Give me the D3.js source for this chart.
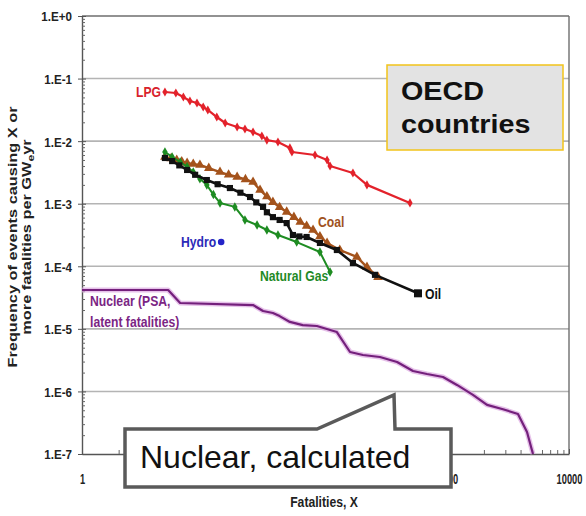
<!DOCTYPE html>
<html>
<head>
<meta charset="utf-8">
<script src="https://cdn.jsdelivr.net/npm/d3@7"></script>
<style>
  html, body { margin: 0; padding: 0; background: #ffffff; }
  svg { display: block; }
  text { font-family: "Liberation Sans", Arial, sans-serif; }
</style>
</head>
<body>
<script>
// ---------------- data ----------------
const yTickValues = [1, 1e-1, 1e-2, 1e-3, 1e-4, 1e-5, 1e-6, 1e-7];
const yTickLabels = ["1.E+0", "1.E-1", "1.E-2", "1.E-3", "1.E-4", "1.E-5", "1.E-6", "1.E-7"];
const xTickValues = [1, 10, 100, 1000, 10000];
const xTickLabels = ["1", "10", "100", "1000", "10000"];

const lpgX = [4.8, 5.9, 6.8, 7.7, 8.8, 9.9, 10.8, 12.8, 15, 18.8, 21.8, 25.4, 30, 33, 40.7, 51, 53, 82, 103, 109, 168, 219, 494];
const lpgF = [0.061, 0.0588, 0.0507, 0.0438, 0.0407, 0.0351, 0.0315, 0.0243, 0.0195, 0.0168, 0.0156, 0.0140, 0.0121, 0.0104, 0.0097, 0.0078, 0.0067, 0.0060, 0.0050, 0.0040, 0.0031, 0.0020, 0.00103];

const coalX = [4.8, 5.4, 6.0, 6.6, 7.3, 8.2, 9.3, 11, 13.6, 16, 18.8, 22, 25.4, 29, 33, 37, 42, 48, 55, 62, 70, 79, 90, 103, 131, 181, 219, 270];
const coalF = [5.58e-3, 5.3e-3, 5.0e-3, 4.7e-3, 4.47e-3, 4.3e-3, 4.16e-3, 3.7e-3, 3.21e-3, 2.9e-3, 2.67e-3, 2.45e-3, 2.22e-3, 1.66e-3, 1.3e-3, 1.06e-3, 8.8e-4, 7.4e-4, 6.1e-4, 5.1e-4, 4.4e-4, 3.8e-4, 3.0e-4, 2.36e-4, 1.82e-4, 1.41e-4, 9.7e-5, 6.7e-5];

const oilX = [4.8, 5.5, 6.3, 7.3, 8.5, 10.6, 13, 16.4, 20, 24, 27, 30.7, 33, 37, 42, 48, 54, 61, 70, 90, 124, 168, 255, 575];
const oilF = [5.38e-3, 4.8e-3, 4.1e-3, 3.46e-3, 2.9e-3, 2.39e-3, 2.05e-3, 1.78e-3, 1.5e-3, 1.28e-3, 1.05e-3, 8.9e-4, 7.3e-4, 6.1e-4, 5.5e-4, 4.9e-4, 3.16e-4, 3.0e-4, 2.94e-4, 2.36e-4, 1.82e-4, 1.13e-4, 7.3e-5, 3.7e-5];

const gasX = [4.8, 5.5, 6.4, 7.3, 8.2, 9.3, 10.6, 12, 13.6, 18, 21.8, 27.4, 33, 40.7, 58, 90, 109];
const gasF = [6.7e-3, 5.6e-3, 4.64e-3, 3.9e-3, 3.21e-3, 2.5e-3, 1.99e-3, 1.4e-3, 1.03e-3, 8.9e-4, 5.5e-4, 4.57e-4, 3.8e-4, 3.16e-4, 2.44e-4, 1.69e-4, 8.1e-5];

const hydroX = [13.9];
const hydroF = [2.44e-4];

const nucX = [1, 5.1, 6.4, 25.4, 30.7, 37, 42, 51, 65, 85, 124, 159, 203, 280, 387, 523, 682, 923, 1202, 1626, 2122, 2870, 3810, 4520, 5060];
const nucF = [4.18e-5, 4.18e-5, 2.59e-5, 2.40e-5, 1.93e-5, 1.79e-5, 1.60e-5, 1.29e-5, 1.15e-5, 1.11e-5, 8.9e-6, 4.27e-6, 3.82e-6, 3.55e-6, 2.95e-6, 2.12e-6, 1.90e-6, 1.70e-6, 1.27e-6, 8.8e-7, 6.1e-7, 5.2e-7, 4.35e-7, 2.25e-7, 1e-7];

// ---------------- chart ----------------
const W = 586, H = 516;
const svg = d3.select("body").append("svg").attr("width", W).attr("height", H);

const x = d3.scaleLog().domain([1, 10000]).range([82, 569]);
const y = d3.scaleLog().domain([1e-7, 1]).range([454, 16]);

// callout geometry (drawn last, on top)
const cL = 125, cR = 451, cT = 429, cB = 487, pL = 317, pR = 395, tipX = 394, tipY = 395;

const zip = (xs, ys) => xs.map((v, i) => [v, ys[i]]);
const line = d3.line().x(d => x(d[0])).y(d => y(d[1]));

// grid lines
svg.append("g").selectAll("line")
  .data(yTickValues.filter(v => v < 1 && v > 1e-7))
  .join("line")
  .attr("x1", x(1)).attr("x2", x(10000))
  .attr("y1", d => y(d)).attr("y2", d => y(d))
  .attr("stroke", "#b4b4b4").attr("stroke-width", 1.6);

// frame top + right
svg.append("line").attr("x1", x(1)).attr("x2", x(10000)).attr("y1", y(1)).attr("y2", y(1))
  .attr("stroke", "#6e6e6e").attr("stroke-width", 1.6);
svg.append("line").attr("x1", x(10000)).attr("x2", x(10000)).attr("y1", y(1)).attr("y2", y(1e-7))
  .attr("stroke", "#6e6e6e").attr("stroke-width", 1.4);

// y axis
const yMinor = y.ticks().filter(v => !yTickValues.some(t => Math.abs(t - v) / t < 1e-9));
const gy = svg.append("g").attr("transform", `translate(${x(1)},0)`);
gy.call(d3.axisLeft(y).tickValues(yTickValues).tickFormat((d, i) => yTickLabels[i]).tickSizeInner(4).tickSizeOuter(0));
gy.select(".domain").attr("stroke", "#555").attr("stroke-width", 1.4);
gy.selectAll(".tick line").attr("stroke", "#555");
gy.selectAll(".tick text")
  .attr("x", -10 / 0.86).attr("dy", "0.36em")
  .attr("transform", "scale(0.86,1)")
  .attr("font-size", 13.5).attr("font-weight", "bold").attr("fill", "#222");
const gyIn = svg.append("g").attr("transform", `translate(${x(1)},0)`);
gyIn.call(d3.axisRight(y).tickValues(yTickValues).tickFormat("").tickSize(4).tickSizeOuter(0));
gyIn.call(g => g.select(".domain").remove());
gyIn.selectAll(".tick line").attr("stroke", "#555");
const gyMinor = svg.append("g").attr("transform", `translate(${x(1)},0)`);
gyMinor.call(d3.axisRight(y).tickValues(yMinor).tickFormat("").tickSize(3).tickSizeOuter(0));
gyMinor.call(g => g.select(".domain").remove());
gyMinor.selectAll(".tick line").attr("stroke", "#666");

// x axis (labels hidden behind the callout box are not drawn)
const xMinor = x.ticks().filter(v => !xTickValues.some(t => Math.abs(t - v) / t < 1e-9));
const gx = svg.append("g").attr("transform", `translate(0,${y(1e-7)})`);
gx.call(d3.axisBottom(x).tickValues(xTickValues)
  .tickFormat((d, i) => (x(d) > cL && x(d) < cR - 12) ? "" : xTickLabels[i])
  .tickSizeInner(-5).tickSizeOuter(0));
gx.select(".domain").attr("stroke", "#555").attr("stroke-width", 1.6);
gx.selectAll(".tick line").attr("stroke", "#555");
gx.selectAll(".tick text")
  .attr("y", 30).attr("dy", 0)
  .attr("transform", "scale(0.62,1)")
  .attr("font-size", 15).attr("font-weight", "bold").attr("fill", "#222");
const gxMinor = svg.append("g").attr("transform", `translate(0,${y(1e-7)})`);
gxMinor.call(d3.axisBottom(x).tickValues(xMinor).tickFormat("").tickSize(-4).tickSizeOuter(0));
gxMinor.call(g => g.select(".domain").remove());
gxMinor.selectAll(".tick line").attr("stroke", "#666");

// axis titles
svg.append("text")
  .attr("transform", "translate(17,237) rotate(-90) scale(1.36,1)")
  .attr("text-anchor", "middle").attr("font-size", 12).attr("font-weight", "bold").attr("fill", "#222")
  .text("Frequency of events causing X or");
const yt2 = svg.append("text")
  .attr("transform", "translate(31,237) rotate(-90) scale(1.36,1)")
  .attr("text-anchor", "middle").attr("font-size", 12).attr("font-weight", "bold").attr("fill", "#222");
yt2.append("tspan").text("more fatalities per GW");
yt2.append("tspan").attr("font-size", 9).attr("dy", 3).text("e");
yt2.append("tspan").attr("dy", -3).text("yr");

svg.append("text")
  .attr("transform", "translate(324,507) scale(0.87,1)")
  .attr("text-anchor", "middle").attr("font-size", 14).attr("font-weight", "bold").attr("fill", "#222")
  .text("Fatalities, X");

// series
const colors = { lpg: "#e3222b", coal: "#a4531c", oil: "#111111", gas: "#1e8c22", hydro: "#2424c8", nuc: "#74207c" };

// nuclear line
const nucData = zip(nucX, nucF);
svg.append("path").datum(nucData).attr("d", line).attr("fill", "none")
  .attr("stroke", "#dca6e0").attr("stroke-width", 5).attr("stroke-linejoin", "round").attr("opacity", 0.7);
svg.append("path").datum(nucData).attr("d", line).attr("fill", "none")
  .attr("stroke", colors.nuc).attr("stroke-width", 2.2).attr("stroke-linejoin", "round");

function series(xs, ys, color, sym, size, width) {
  const data = zip(xs, ys);
  svg.append("path").datum(data).attr("d", line).attr("fill", "none")
    .attr("stroke", color).attr("stroke-width", width).attr("stroke-linejoin", "round");
  svg.append("g").selectAll("path").data(data).join("path")
    .attr("transform", d => `translate(${x(d[0])},${y(d[1])})`)
    .attr("d", d3.symbol().type(sym).size(size))
    .attr("fill", color);
}
series(coalX, coalF, colors.coal, d3.symbolTriangle, 40, 2.4);
series(gasX, gasF, colors.gas, d3.symbolDiamond, 26, 2);
series(oilX, oilF, colors.oil, d3.symbolSquare, 38, 2.6);
series(lpgX, lpgF, colors.lpg, d3.symbolDiamond, 24, 2.2);

// end marker of oil bigger
svg.append("rect")
  .attr("x", x(oilX[oilX.length - 1]) - 4).attr("y", y(oilF[oilF.length - 1]) - 4)
  .attr("width", 8).attr("height", 8).attr("fill", colors.oil);

// hydro
svg.append("g").selectAll("circle").data(zip(hydroX, hydroF)).join("circle")
  .attr("cx", d => x(d[0])).attr("cy", d => y(d[1])).attr("r", 3.3).attr("fill", colors.hydro);

// series labels
function label(tx, ty, txt, color, anchor) {
  return svg.append("text")
    .attr("transform", `translate(${tx},${ty}) scale(0.84,1)`)
    .attr("text-anchor", anchor || "start")
    .attr("font-size", 14.5).attr("font-weight", "bold").attr("fill", color)
    .text(txt);
}
label(161, 97, "LPG", "#d8232c", "end");
label(318, 227, "Coal", "#a0521e");
label(181, 247, "Hydro", "#2b2bb8");
label(260, 281, "Natural Gas", "#1f8a27");
label(425, 299, "Oil", "#111");
label(90, 306, "Nuclear (PSA,", "#7b2584");
label(90, 327, "latent fatalities)", "#7b2584");

// OECD box
svg.append("rect").attr("x", 387).attr("y", 65).attr("width", 176).attr("height", 85)
  .attr("fill", "#e3e3e3").attr("stroke", "#f2c41a").attr("stroke-width", 1.5);
svg.append("text").attr("transform", "translate(401,100) scale(1.15,1)")
  .attr("font-size", 25).attr("font-weight", "bold").attr("fill", "#111").text("OECD");
svg.append("text").attr("transform", "translate(401,133) scale(1.15,1)")
  .attr("font-size", 25).attr("font-weight", "bold").attr("fill", "#111").text("countries");

// callout
svg.append("path")
  .attr("d", `M${cL},${cT} L${pL},${cT} L${tipX},${tipY} L${pR},${cT} L${cR},${cT} L${cR},${cB} L${cL},${cB} Z`)
  .attr("fill", "#ffffff").attr("stroke", "#5a5a5a").attr("stroke-width", 3.5).attr("stroke-linejoin", "miter");
svg.append("text").attr("x", 140).attr("y", 468)
  .attr("font-size", 32).attr("fill", "#111").text("Nuclear, calculated");
</script>
</body>
</html>
